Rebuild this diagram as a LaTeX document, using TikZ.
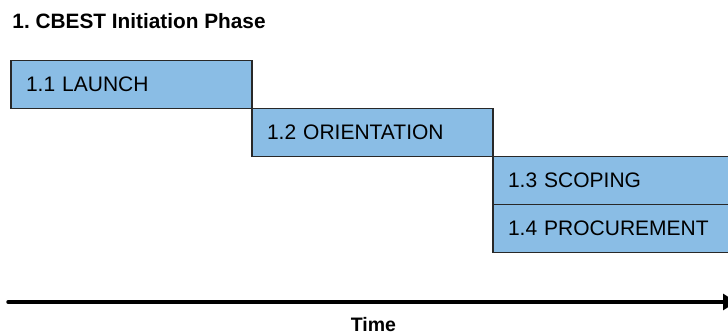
\documentclass[tikz,border=0pt]{standalone}
\usepackage{fontspec}
\setmainfont{Liberation Sans}
\usetikzlibrary{positioning,arrows.meta}
\definecolor{phaseblue}{RGB}{138,189,229}
\definecolor{phaseline}{RGB}{40,40,40}
\frenchspacing
\begin{document}
\begin{tikzpicture}[x=1pt,y=-1pt,
				every node/.style={inner sep=0pt,outer sep=0pt},
				stage/.style={rectangle,draw=phaseline,line width=1.4pt,fill=phaseblue,
					minimum width=241pt,minimum height=48pt,anchor=north west,
					text width=211pt,align=left,font=\fontsize{21}{24}\selectfont},
				heading/.style={font=\fontsize{20.8}{24}\selectfont\bfseries}]
\useasboundingbox (0,0) rectangle (728,336);
\node[heading,anchor=base west] (title) at (12.5,29) {1. CBEST Initiation Phase};
\node[stage] (launch) at (11,60.5) {1.1 LAUNCH};
\node[stage] (orient) at (launch.south east) {1.2 ORIENTATION};
\node[stage] (scoping) at (orient.south east) {1.3 SCOPING};
\node[stage] (procure) at (scoping.south west) {1.4 PROCUREMENT};
\coordinate (t0) at (8,302);
\coordinate (t1) at (736,302);
\draw[line width=3.5pt,line cap=round,-{Triangle[length=13pt,width=16pt]}] (t0) -- (t1);
\node[heading,font=\fontsize{19.5}{22}\selectfont\bfseries,anchor=base] (time) at (373.5,332) {Time};
\end{tikzpicture}
\end{document}
